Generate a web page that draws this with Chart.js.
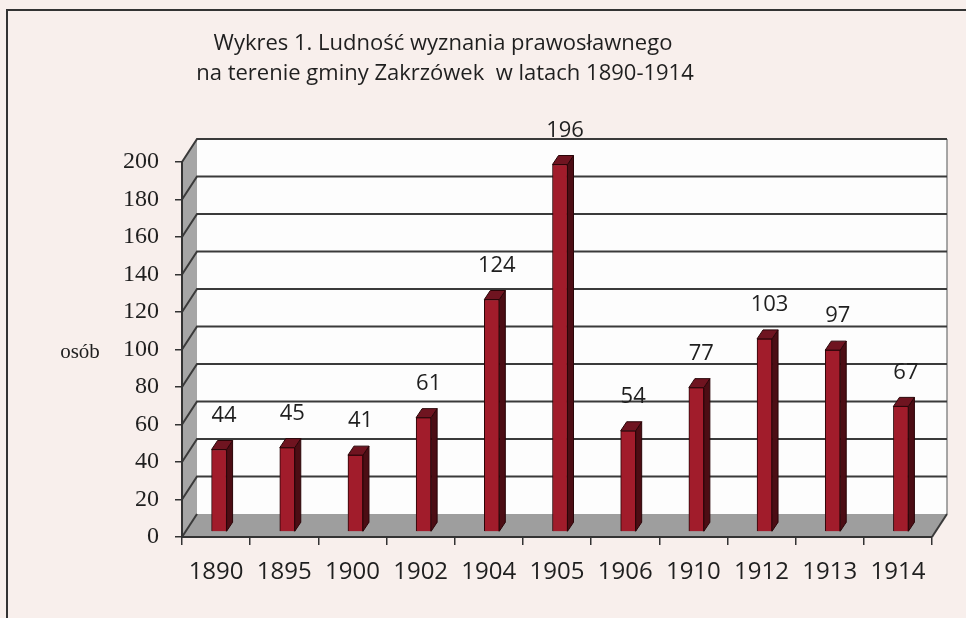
<!DOCTYPE html>
<html>
<head>
<meta charset="utf-8">
<script src="https://cdn.jsdelivr.net/npm/chart.js@4/dist/chart.umd.min.js"></script>
<style>
  html, body { margin: 0; padding: 0; background: #f8efec; }
  canvas { display: block; }
</style>
</head>
<body>
<canvas id="chart" width="966" height="618"></canvas>
<script>
// data
const years = ['1890', '1895', '1900', '1902', '1904', '1905', '1906', '1910', '1912', '1913', '1914'];
const people = [44, 45, 41, 61, 124, 196, 54, 77, 103, 97, 67];
const titleLines = ['Wykres 1. Ludność wyznania prawosławnego', 'na terenie gminy Zakrzówek  w latach 1890-1914'];
const yAxisLabel = 'osób';
const yMin = 0, yMax = 200, yStep = 20;

// pseudo 3D depth
const WALL_DX = 15, WALL_DY = -23;
const BAR_DX = 3, BAR_DY = -5;
const SIDE_DX = 6, SIDE_DY = -9;

function poly(ctx, pts) {
    ctx.beginPath();
    ctx.moveTo(pts[0], pts[1]);
    for (let i = 2; i < pts.length; i += 2) ctx.lineTo(pts[i], pts[i + 1]);
    ctx.closePath();
}

const box3d = {
    id: 'box3d',
    beforeDraw(chart) {
        const ctx = chart.ctx;
        const a = chart.chartArea;
        const y = chart.scales.y;
        const y0 = y.getPixelForValue(yMin);
        const yT = y.getPixelForValue(yMax);
        ctx.save();
        ctx.fillStyle = '#f8efec';
        ctx.fillRect(0, 0, chart.width, chart.height);

        // frame
        ctx.strokeStyle = '#333';
        ctx.lineWidth = 2;
        ctx.beginPath();
        ctx.moveTo(7, chart.height);
        ctx.lineTo(7, 10);
        ctx.lineTo(chart.width, 10);
        ctx.stroke();

        // title
        ctx.fillStyle = '#1f1f1f';
        ctx.font = '22px "Open Sans"';
        ctx.textAlign = 'center';
        ctx.textBaseline = 'middle';
        ctx.fillText(titleLines[0], 443, 44);
        ctx.fillText(titleLines[1], 445, 74);

        ctx.font = '21px "Liberation Serif"';
        ctx.fillText(yAxisLabel, 80, 352);

        // side wall
        ctx.fillStyle = '#a6a6a6';
        poly(ctx, [a.left, yT, a.left + WALL_DX, yT + WALL_DY, a.left + WALL_DX, y0 + WALL_DY, a.left, y0]);
        ctx.fill();
        // back wall
        ctx.fillStyle = '#fdfdfd';
        ctx.fillRect(a.left + WALL_DX, yT + WALL_DY, a.right - a.left, y0 - yT);
        // floor
        ctx.fillStyle = '#9e9e9e';
        poly(ctx, [a.left, y0, a.left + WALL_DX, y0 + WALL_DY, a.right + WALL_DX, y0 + WALL_DY, a.right, y0]);
        ctx.fill();

        // right edge of back wall
        ctx.strokeStyle = '#8a8a8a';
        ctx.lineWidth = 1.5;
        ctx.beginPath();
        ctx.moveTo(a.right + WALL_DX, yT + WALL_DY);
        ctx.lineTo(a.right + WALL_DX, y0 + WALL_DY);
        ctx.stroke();

        // gridlines
        ctx.strokeStyle = '#3a3a3a';
        ctx.lineWidth = 2;
        y.ticks.forEach(t => {
            const py = y.getPixelForValue(t.value);
            ctx.beginPath();
            ctx.moveTo(a.left, py);
            ctx.lineTo(a.left + WALL_DX, py + WALL_DY);
            if (t.value > yMin) ctx.lineTo(a.right + WALL_DX, py + WALL_DY);
            ctx.stroke();
        });
        ctx.beginPath();
        ctx.moveTo(a.right, y0);
        ctx.lineTo(a.right + WALL_DX, y0 + WALL_DY);
        ctx.stroke();
        ctx.restore();
    },
    beforeDatasetDraw(chart) {
        chart.ctx.save();
        chart.ctx.translate(BAR_DX, BAR_DY);
    },
    afterDatasetDraw(chart, args) {
        const ctx = chart.ctx;
        args.meta.data.forEach(bar => {
            const half = bar.width / 2;
            const r = bar.x + half, l = bar.x - half;
            ctx.lineWidth = 1;
            ctx.strokeStyle = '#2a0508';
            ctx.fillStyle = '#4c0d14';
            poly(ctx, [r, bar.base, r + SIDE_DX, bar.base + SIDE_DY, r + SIDE_DX, bar.y + SIDE_DY, r, bar.y]);
            ctx.fill();
            ctx.stroke();
            ctx.fillStyle = '#6f1420';
            poly(ctx, [l, bar.y, l + SIDE_DX, bar.y + SIDE_DY, r + SIDE_DX, bar.y + SIDE_DY, r, bar.y]);
            ctx.fill();
            ctx.stroke();
        });
        ctx.restore();
    },
    afterDatasetsDraw(chart) {
        const ctx = chart.ctx;
        const meta = chart.getDatasetMeta(0);
        ctx.save();
        ctx.fillStyle = '#1f1f1f';
        ctx.font = '22px "Open Sans"';
        ctx.textAlign = 'center';
        ctx.textBaseline = 'middle';
        meta.data.forEach((bar, i) => {
            ctx.fillText(String(people[i]), bar.x + BAR_DX + 5, bar.y + BAR_DY - 34);
        });
        ctx.restore();
    }
};

new Chart(document.getElementById('chart'), {
    type: 'bar',
    data: {
        labels: years,
        datasets: [{
            label: 'osób',
            data: people,
            backgroundColor: '#a11c2b',
            borderColor: '#2a0508',
            borderWidth: 1,
            barThickness: 15
        }]
    },
    options: {
        responsive: false,
        animation: false,
        devicePixelRatio: 1,
        layout: { padding: { top: 162, right: 34, left: 0, bottom: 0 } },
        plugins: {
            legend: { display: false },
            title: { display: false },
            tooltip: { enabled: false }
        },
        scales: {
            x: {
                afterFit: s => { s.height = 81; },
                grid: { offset: true, drawOnChartArea: false, tickLength: 8, color: '#333', lineWidth: 1.5 },
                border: { display: true, color: '#333', width: 2 },
                ticks: { color: '#1f1f1f', font: { family: 'Open Sans', size: 24 }, padding: 13, maxRotation: 0 }
            },
            y: {
                min: yMin,
                max: yMax,
                afterFit: s => { s.width = 182; },
                grid: { drawOnChartArea: false, tickLength: 7, color: '#333', lineWidth: 1.5 },
                border: { display: true, color: '#333', width: 2 },
                ticks: { stepSize: yStep, color: '#1f1f1f', font: { family: 'Liberation Serif', size: 24 }, padding: 16 }
            }
        }
    },
    plugins: [box3d]
});
</script>
</body>
</html>
